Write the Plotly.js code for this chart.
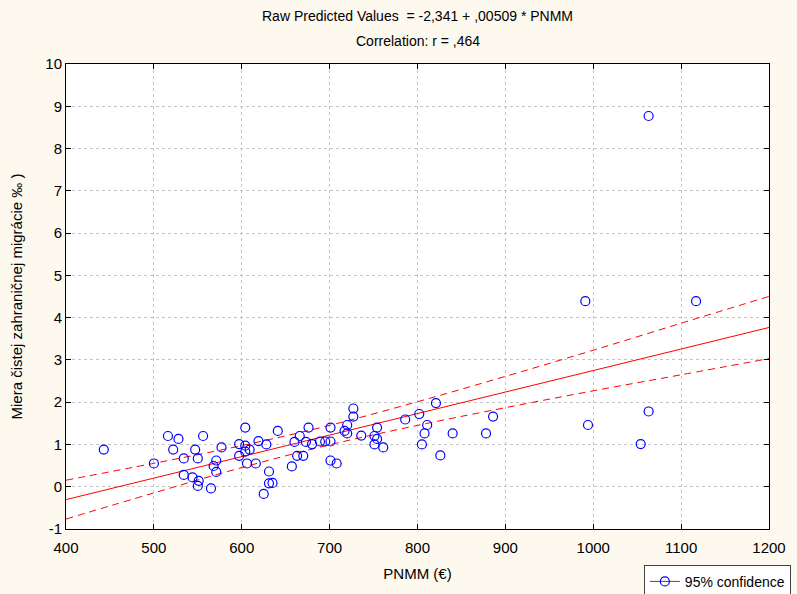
<!DOCTYPE html>
<html>
<head>
<meta charset="utf-8">
<script src="https://cdn.plot.ly/plotly-3.0.1.min.js"></script>
<style>html,body{margin:0;padding:0;background:#fdf9ee;}#chart{width:797px;height:594px;}</style>
</head>
<body>
<div id="chart"></div>
<script>
// Observed data: PNMM (€) vs net foreign migration rate (‰)
const pnmm = [443,500,516,528,522,534,556,547,550,534,544,551,550,565,568,571,571,577,597,604,597,604,604,609,606,616,619,628,641,631,631,635,625,657,660,666,663,670,673,676,680,689,695,701,701,701,708,717,720,720,727,727,736,754,751,754,751,761,786,802,821,811,808,805,826,840,878,886,991,994,1054,1063,1063,1117];
const migration = [0.88,0.55,1.20,1.13,0.88,0.67,1.20,0.88,0.67,0.28,0.22,0.14,0.02,-0.04,0.49,0.62,0.35,0.93,1.01,1.40,0.73,0.83,0.97,0.88,0.55,0.55,1.08,1.00,1.32,0.36,0.08,0.09,-0.17,0.48,1.06,1.20,0.73,0.73,1.06,1.40,1.01,1.07,1.07,1.07,1.40,0.62,0.55,1.32,1.46,1.26,1.66,1.85,1.21,1.40,1.20,1.13,1.00,0.93,1.59,1.72,1.98,1.46,1.26,1.00,0.74,1.26,1.26,1.66,4.39,1.46,1.01,1.78,8.77,4.39];

// Fitted regression line
const fitX = [400, 1200];
const fitY = [-0.305, 3.767];

// 95% confidence band
const bandX = [400,500,600,700,800,900,1000,1100,1200];
const bandUpper = [0.155,0.554,0.973,1.452,2.011,2.61,3.229,3.868,4.502];
const bandLower = [-0.765,-0.146,0.453,0.992,1.451,1.87,2.269,2.648,3.032];

const xTicks = [400,500,600,700,800,900,1000,1100,1200];
const yTicks = [-1,0,1,2,3,4,5,6,7,8,9,10];

const titleLine1 = 'Raw Predicted Values  = -2,341 + ,00509 * PNMM';
const titleLine2 = 'Correlation: r = ,464';

const font = 'Liberation Sans, Arial, sans-serif';

const traces = [
  {x: bandX, y: bandUpper, mode: 'lines', line: {color: '#ff0000', width: 1, dash: '7px,5px', shape: 'spline'}, showlegend: false, hoverinfo: 'skip'},
  {x: bandX, y: bandLower, mode: 'lines', line: {color: '#ff0000', width: 1, dash: '7px,5px', shape: 'spline'}, showlegend: false, hoverinfo: 'skip'},
  {x: fitX, y: fitY, mode: 'lines', line: {color: '#ff0000', width: 1}, showlegend: false},
  {x: pnmm, y: migration, mode: 'markers', marker: {symbol: 'circle-open', size: 9, color: '#0000ff', line: {width: 1.2, color: '#0000ff'}}, showlegend: false},
  {x: [null], y: [null], mode: 'lines+markers', name: '95% confidence', line: {color: '#ff0000', width: 1}, marker: {symbol: 'circle-open', size: 9, color: '#0000ff', line: {width: 1.2}}, showlegend: true}
];

const axisCommon = {
  showline: true, linecolor: '#000', linewidth: 1, mirror: 'ticks',
  ticks: 'inside', ticklen: 5, tickcolor: '#000',
  showgrid: true, gridcolor: '#c4c4c4', griddash: '3px,3px', gridwidth: 1,
  zeroline: false, tickfont: {family: font, size: 15, color: '#000'}
};

const layout = {
  width: 797, height: 594,
  margin: {l: 66, r: 28, t: 64, b: 65, autoexpand: false},
  paper_bgcolor: '#fdf9ee', plot_bgcolor: '#ffffff',
  font: {family: font, color: '#000'},
  title: {text: titleLine1, font: {family: font, size: 14, color: '#000'}, x: 0.5, xref: 'paper', y: 0.973, yref: 'container', yanchor: 'middle'},
  annotations: [{text: titleLine2, xref: 'paper', yref: 'paper', x: 0.5, y: 1.049, yanchor: 'middle', showarrow: false, font: {family: font, size: 14, color: '#000'}}],
  xaxis: Object.assign({}, axisCommon, {range: [400, 1200], tickvals: xTicks, ticktext: xTicks.map(String), ticklabelstandoff: 5,
    title: {text: 'PNMM (€)', font: {family: font, size: 15}, standoff: 13}}),
  yaxis: Object.assign({}, axisCommon, {range: [-1, 10], tickvals: yTicks, ticktext: yTicks.map(String),
    title: {text: 'Miera čistej zahraničnej migrácie ‰ )', font: {family: font, size: 15}, standoff: 19}}),
  legend: {x: 0.822, xanchor: 'left', y: -0.077, yanchor: 'top', bgcolor: '#ffffff', bordercolor: '#444', borderwidth: 1,
    font: {family: font, size: 14, color: '#000'}, itemwidth: 30, tracegroupgap: 0}
};

Plotly.newPlot('chart', traces, layout, {displayModeBar: false, staticPlot: true});
</script>
</body>
</html>
